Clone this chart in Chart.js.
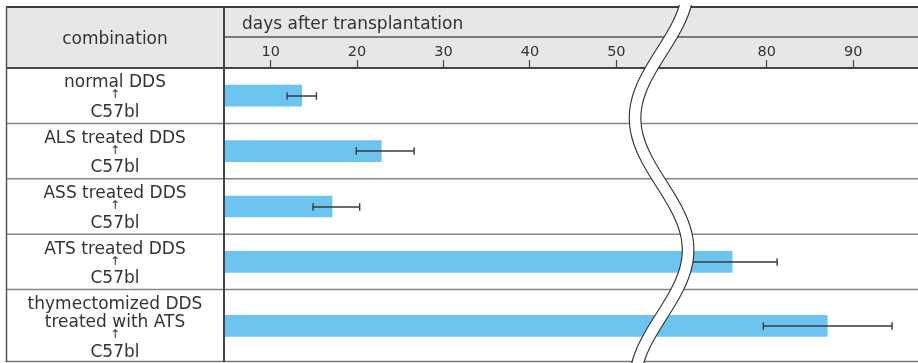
<!DOCTYPE html>
<html>
<head>
<meta charset="utf-8">
<script src="https://cdn.jsdelivr.net/npm/chart.js@4"></script>
<style>
  html, body { margin: 0; padding: 0; background: #fff; }
  #wrap { width: 918px; height: 363px; }
</style>
</head>
<body>
<div id="wrap"><canvas id="c" width="918" height="363"></canvas></div>
<script>
// Donor/recipient combinations (one label line per entry)
const combinations = [
  ['normal DDS', '↑', 'C57bl'],
  ['ALS treated DDS', '↑', 'C57bl'],
  ['ASS treated DDS', '↑', 'C57bl'],
  ['ATS treated DDS', '↑', 'C57bl'],
  ['thymectomized DDS', 'treated with ATS', '↑', 'C57bl']
];
// Mean survival (days after transplantation) with spread
const survivalDays = [13.6, 22.8, 17.1, 76.0, 87.0];
const spreadLow    = [11.9, 19.9, 14.9, 71.0, 79.6];
const spreadHigh   = [15.3, 26.6, 20.3, 81.2, 94.5];
// Axis ticks (days)
const tickDays = [10, 20, 30, 40, 50, 80, 90];
const axisTitle = 'days after transplantation';
const columnTitle = 'combination';

// Broken axis: days between BREAK_START and BREAK_START + BREAK_SKIP are cut out
const BREAK_START = 55;
const BREAK_SKIP = 12.6;
const toAxis = v => (v <= BREAK_START ? v : Math.max(BREAK_START, v - BREAK_SKIP));
const X_MIN = 4.6, X_MAX = 84.9;

// Row heights follow the number of label lines
const rowWeight = combinations.map(lines => lines.length * 17 + 4.5);
const rowTop = [];
rowWeight.reduce((acc, w) => { rowTop.push(acc); return acc + w; }, 0);
const rowCenter = rowWeight.map((w, i) => rowTop[i] + w / 2);
const Y_MAX = rowWeight.reduce((a, b) => a + b, 0);

const FONT = '"DejaVu Sans", sans-serif';
const TEXT = '#333';
const T0 = 7, LEFT = 6, DIV = 224, MID = 37, HEAD = 68;

const tablePlugin = {
  id: 'table',
  beforeDraw(chart) {
    const { ctx, width } = chart;
    ctx.save();
    ctx.fillStyle = '#e6e7e9';
    ctx.fillRect(LEFT, T0, width - LEFT, HEAD - T0);
    ctx.restore();
  },
  afterDatasetsDraw(chart) {
    const { ctx } = chart;
    const xs = chart.scales.x, ys = chart.scales.y;
    ctx.save();
    ctx.strokeStyle = '#3a3a3a';
    ctx.lineWidth = 1.4;
    survivalDays.forEach((v, i) => {
      const y = Math.round(ys.getPixelForValue(rowCenter[i]));
      const x1 = xs.getPixelForValue(toAxis(spreadLow[i]));
      const x2 = xs.getPixelForValue(toAxis(spreadHigh[i]));
      ctx.beginPath();
      ctx.moveTo(x1, y); ctx.lineTo(x2, y);
      ctx.moveTo(x1, y - 3.7); ctx.lineTo(x1, y + 3.7);
      ctx.moveTo(x2, y - 3.7); ctx.lineTo(x2, y + 3.7);
      ctx.stroke();
    });
    ctx.restore();
  },
  afterDraw(chart) {
    const { ctx, width } = chart;
    const xs = chart.scales.x, ys = chart.scales.y;
    const bottom = chart.chartArea.bottom;
    const line = (x1, y1, x2, y2, c, w) => {
      ctx.strokeStyle = c; ctx.lineWidth = w;
      ctx.beginPath(); ctx.moveTo(x1, y1); ctx.lineTo(x2, y2); ctx.stroke();
    };
    ctx.save();
    // row separators
    for (let i = 1; i < rowTop.length; i++) {
      const y = ys.getPixelForValue(rowTop[i]);
      line(LEFT, y, width, y, '#858585', 1.5);
    }
    line(LEFT, bottom - 0.5, width, bottom - 0.5, '#777', 1.5);
    // header frame
    line(LEFT, T0, width, T0, '#3c3c3c', 2);
    line(DIV, MID, width, MID, '#7a7a7a', 2);
    line(LEFT, HEAD, width, HEAD, '#444', 2);
    line(LEFT + 0.5, T0, LEFT + 0.5, bottom, '#555', 1.5);
    line(DIV, T0, DIV, bottom, '#444', 2);

    // texts
    ctx.fillStyle = TEXT;
    ctx.font = '17px ' + FONT;
    ctx.textAlign = 'left';
    ctx.textBaseline = 'alphabetic';
    ctx.fillText(axisTitle, 242, 29);
    ctx.textAlign = 'center';
    const cx = (LEFT + DIV) / 2;
    ctx.fillText(columnTitle, cx, 44);
    combinations.forEach((lines, i) => {
      const top = ys.getPixelForValue(rowTop[i]);
      let base = top + 19.3;
      lines.forEach((t, k) => {
        if (t === '↑') {
          ctx.font = '12px ' + FONT;
          ctx.textBaseline = 'middle';
          ctx.fillText(t, cx, base + 8);
          ctx.textBaseline = 'alphabetic';
          ctx.font = '17px ' + FONT;
          base += 29.4;
        } else {
          ctx.fillText(t, cx, base);
          if (lines[k + 1] !== '↑') base += 18.4;
        }
      });
    });

    // axis break band
    const xc = xs.getPixelForValue(BREAK_START) + 2;
    const A = 26.5, P = 264, Y0 = 118, H = 5.8;
    const left = [], right = [];
    for (let y = T0 - 2; y <= chart.height + 1; y += 1) {
      const ph = 2 * Math.PI * (y - Y0) / P;
      const x = xc - A * Math.cos(ph);
      const s = A * 2 * Math.PI / P * Math.sin(ph);
      const off = H * Math.sqrt(1 + s * s);
      left.push([x - off, y]); right.push([x + off, y]);
    }
    ctx.fillStyle = '#fff';
    ctx.beginPath();
    left.forEach(([x, y], k) => k ? ctx.lineTo(x, y) : ctx.moveTo(x, y));
    for (let k = right.length - 1; k >= 0; k--) ctx.lineTo(right[k][0], right[k][1]);
    ctx.closePath();
    ctx.fill();
    ctx.strokeStyle = '#2e2e2e';
    ctx.lineWidth = 1.1;
    [left, right].forEach(pts => {
      ctx.beginPath();
      pts.forEach(([x, y], k) => k ? ctx.lineTo(x, y) : ctx.moveTo(x, y));
      ctx.stroke();
    });
    ctx.restore();
  }
};

new Chart(document.getElementById('c'), {
  type: 'bar',
  data: {
    datasets: [{
      data: survivalDays.map((v, i) => ({ x: [X_MIN, toAxis(v)], y: rowCenter[i] })),
      backgroundColor: '#6cc5ee',
      borderWidth: 0,
      barThickness: 21
    }]
  },
  options: {
    indexAxis: 'y',
    responsive: false,
    devicePixelRatio: 1,
    animation: false,
    layout: { padding: { left: DIV, top: T0, right: 0, bottom: 1 } },
    plugins: { legend: { display: false }, tooltip: { enabled: false } },
    scales: {
      x: {
        type: 'linear',
        position: 'top',
        min: X_MIN,
        max: X_MAX,
        afterFit: s => { s.height = HEAD - T0; },
        afterBuildTicks: s => { s.ticks = tickDays.map(d => ({ value: toAxis(d) })); },
        border: { display: false },
        grid: { drawOnChartArea: false, drawTicks: true, tickLength: 8, tickColor: '#444', tickWidth: 1.2 },
        ticks: {
          autoSkip: false,
          maxRotation: 0,
          padding: -1,
          color: TEXT,
          font: { family: FONT, size: 14.5 },
          callback: (val, idx) => String(tickDays[idx])
        }
      },
      y: {
        type: 'linear',
        display: false,
        reverse: true,
        offset: false,
        grace: 0,
        min: 0,
        max: Y_MAX
      }
    }
  },
  plugins: [tablePlugin]
});
</script>
</body>
</html>
